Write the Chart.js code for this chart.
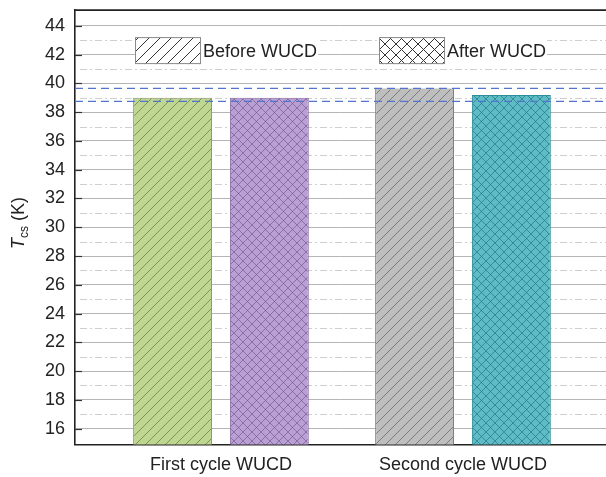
<!DOCTYPE html>
<html>
<head>
<meta charset="utf-8">
<script src="https://cdn.jsdelivr.net/npm/chart.js@4.4.1/dist/chart.umd.min.js"></script>
<style>
  html, body { margin: 0; padding: 0; background: #ffffff; overflow: hidden; }
  #wrap { width: 606px; height: 477px; }
</style>
</head>
<body>
<div id="wrap"><canvas id="c" width="606" height="477"></canvas></div>
<script>
// ---- data ----
const categories = ['First cycle WUCD', 'Second cycle WUCD'];
const seriesNames = ['Before WUCD', 'After WUCD'];
const beforeValues = [39.0, 39.65];
const afterValues = [39.0, 39.2];
const referenceLevels = [39.65, 38.75];
const majorTicks = [16, 18, 20, 22, 24, 26, 28, 30, 32, 34, 36, 38, 40, 42, 44];
const minorTicks = [17, 19, 21, 23, 25, 27, 29, 31, 33, 35, 37, 39, 41, 43];

// ---- styling ----
const FONT = '"Liberation Sans", Arial, sans-serif';
const TEXT = '#222222';

function makePattern(bg, fg, size, cross) {
  const c = document.createElement('canvas');
  c.width = size; c.height = size;
  const g = c.getContext('2d');
  g.fillStyle = bg;
  g.fillRect(0, 0, size, size);
  g.strokeStyle = fg;
  g.lineWidth = 1;
  g.beginPath();
  g.moveTo(0, size); g.lineTo(size, 0);
  g.moveTo(-size / 2, size / 2); g.lineTo(size / 2, -size / 2);
  g.moveTo(size / 2, size * 1.5); g.lineTo(size * 1.5, size / 2);
  if (cross) {
    g.moveTo(0, 0); g.lineTo(size, size);
    g.moveTo(-size / 2, size / 2); g.lineTo(size / 2, size * 1.5);
    g.moveTo(size / 2, -size / 2); g.lineTo(size * 1.5, size / 2);
  }
  g.stroke();
  return g.createPattern(c, 'repeat');
}

// per-bar fills: hatched for "before", cross-hatched for "after"
const beforeFills = [
  makePattern('#bed68f', 'rgba(95,120,70,0.7)', 10, false),
  makePattern('#bebebe', 'rgba(95,95,95,0.7)', 10, false)
];
const afterFills = [
  makePattern('#b9a0d2', 'rgba(110,75,140,0.6)', 9, true),
  makePattern('#5fbcc6', 'rgba(25,115,125,0.65)', 9, true)
];
const beforeBorders = ['#8d9a78', '#808080'];
const afterBorders = ['#8a6ea6', '#2e8e98'];

const legendFills = [
  makePattern('#ffffff', '#333333', 11, false),
  makePattern('#ffffff', '#333333', 11, true)
];

const X_MIN = 0.397, X_MAX = 2.591;

// minor dash-dot grid, inner tick marks, top frame line
const gridExtras = {
  id: 'gridExtras',
  beforeDatasetsDraw(chart) {
    const { ctx, chartArea: a, scales: { y } } = chart;
    ctx.save();
    ctx.strokeStyle = '#cfcfcf';
    ctx.lineWidth = 1;
    ctx.setLineDash([7, 3, 2, 3]);
    minorTicks.forEach(v => {
      const py = Math.round(y.getPixelForValue(v)) + 0.5;
      ctx.beginPath();
      ctx.moveTo(a.left + 5, py);
      ctx.lineTo(a.right, py);
      ctx.stroke();
    });
    ctx.setLineDash([]);
    ctx.strokeStyle = '#333333';
    ctx.lineWidth = 1.2;
    majorTicks.forEach(v => {
      const py = Math.round(y.getPixelForValue(v)) + 0.5;
      ctx.beginPath();
      ctx.moveTo(a.left, py);
      ctx.lineTo(a.left + 7, py);
      ctx.stroke();
    });
    ctx.restore();
  },
  afterDraw(chart) {
    const { ctx, chartArea: a } = chart;
    ctx.save();
    ctx.strokeStyle = '#222222';
    ctx.lineWidth = 1.6;
    ctx.beginPath();
    ctx.moveTo(a.left - 0.8, a.top);
    ctx.lineTo(chart.width, a.top);
    ctx.stroke();
    ctx.restore();
  }
};

// legend drawn inside the plot area, near the top
const insideLegend = {
  id: 'insideLegend',
  afterDatasetsDraw(chart) {
    const { ctx, chartArea: a } = chart;
    const boxW = 66, boxH = 27;
    const top = a.top + 27;
    const lefts = [a.left + 60, a.left + 304];
    ctx.save();
    ctx.font = '18px ' + FONT;
    ctx.textBaseline = 'middle';
    seriesNames.forEach((name, i) => {
      const bx = lefts[i];
      const tw = ctx.measureText(name).width;
      ctx.fillStyle = '#ffffff';
      ctx.fillRect(bx, top, boxW + 3 + tw, boxH);
      ctx.fillStyle = legendFills[i];
      ctx.fillRect(bx, top, boxW, boxH);
      ctx.strokeStyle = '#8a8a8a';
      ctx.lineWidth = 1;
      ctx.strokeRect(bx + 0.5, top + 0.5, boxW - 1, boxH - 1);
      ctx.fillStyle = TEXT;
      ctx.fillText(name, bx + boxW + 2, top + boxH / 2 + 1);
    });
    ctx.restore();
  }
};

// rotated y-axis title: T_cs (K)
const yTitle = {
  id: 'yTitle',
  afterDraw(chart) {
    const { ctx } = chart;
    ctx.save();
    ctx.translate(18, 223);
    ctx.rotate(-Math.PI / 2);
    ctx.fillStyle = TEXT;
    ctx.textBaseline = 'alphabetic';
    const fMain = 'italic 18px ' + FONT;
    const fSub = '12px ' + FONT;
    const fRest = '18px ' + FONT;
    ctx.font = fMain; const w1 = ctx.measureText('T').width;
    ctx.font = fSub; const w2 = ctx.measureText('cs').width;
    ctx.font = fRest; const w3 = ctx.measureText(' (K)').width;
    let x = -(w1 + w2 + w3) / 2;
    const base = 6;
    ctx.font = fMain; ctx.fillText('T', x, base); x += w1;
    ctx.font = fSub; ctx.fillText('cs', x, base + 4); x += w2;
    ctx.font = fRest; ctx.fillText(' (K)', x, base);
    ctx.restore();
  }
};

const xMid = [1, 2];
const datasets = [
  {
    type: 'bar',
    label: seriesNames[0],
    data: beforeValues.map((v, i) => ({ x: xMid[i], y: v })),
    backgroundColor: beforeFills,
    borderColor: beforeBorders,
    borderWidth: 1,
    borderSkipped: false,
    order: 2
  },
  {
    type: 'bar',
    label: seriesNames[1],
    data: afterValues.map((v, i) => ({ x: xMid[i], y: v })),
    backgroundColor: afterFills,
    borderColor: afterBorders,
    borderWidth: 1,
    borderSkipped: false,
    order: 2
  }
];
referenceLevels.forEach(v => {
  datasets.push({
    type: 'line',
    label: 'ref',
    data: [{ x: X_MIN, y: v }, { x: X_MAX, y: v }],
    borderColor: '#5274cc',
    borderWidth: 1.3,
    borderDash: [8, 5],
    pointRadius: 0,
    fill: false,
    order: 0
  });
});

new Chart(document.getElementById('c'), {
  type: 'bar',
  data: { datasets },
  options: {
    responsive: false,
    animation: false,
    devicePixelRatio: 1,
    categoryPercentage: 0.8,
    barPercentage: 0.815,
    layout: { padding: { top: 4, left: 35, right: 0, bottom: -9 } },
    plugins: {
      legend: { display: false },
      tooltip: { enabled: false }
    },
    scales: {
      x: {
        type: 'linear',
        offset: false,
        min: X_MIN,
        max: X_MAX,
        grid: { display: false, drawTicks: false, offset: false },
        border: { color: '#222222', width: 1.6 },
        afterBuildTicks: s => { s.ticks = xMid.map(v => ({ value: v })); },
        ticks: {
          padding: 10,
          maxRotation: 0,
          autoSkip: false,
          color: TEXT,
          font: { family: FONT, size: 18 },
          callback: v => categories[xMid.indexOf(v)]
        }
      },
      y: {
        min: 14.9,
        max: 45.1,
        afterBuildTicks: s => { s.ticks = majorTicks.map(v => ({ value: v })); },
        grid: { color: '#b5b5b5', lineWidth: 1, drawTicks: false },
        border: { color: '#222222', width: 1.6 },
        ticks: {
          padding: 10,
          color: TEXT,
          font: { family: FONT, size: 18, lineHeight: 0.01 }
        }
      }
    }
  },
  plugins: [gridExtras, insideLegend, yTitle]
});
</script>
</body>
</html>
